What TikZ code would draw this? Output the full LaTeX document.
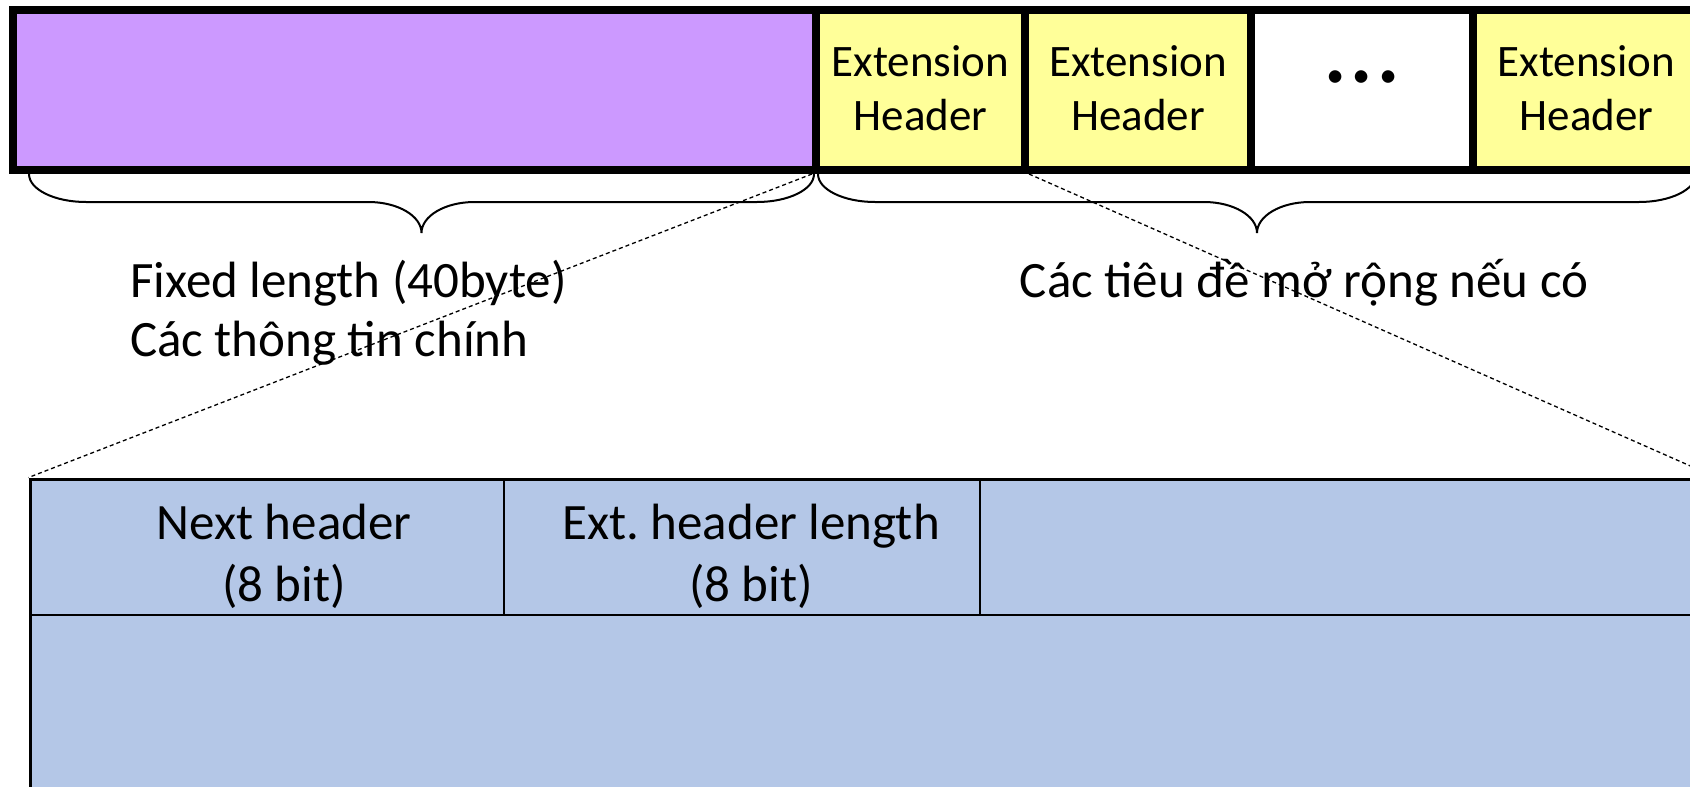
\documentclass[tikz,border=0pt]{standalone}
\usepackage{fontspec}
\setmainfont{Carlito}
\frenchspacing
\definecolor{fixedc}{HTML}{CC99FF}
\definecolor{extc}{HTML}{FFFF99}
\definecolor{cellc}{HTML}{B4C7E7}
\newcommand\mybrace[3]{% x1, xm, x2
  \draw[bracel] (#1,174) .. controls (#1,189.5) and ({#1+25.5},202) .. ({#1+57},202)
   -- ({#2-53},202) .. controls ({#2-23.7},202) and (#2,215.9) .. (#2,233)
   .. controls (#2,215.9) and ({#2+23.7},202) .. ({#2+53},202)
   -- ({#3-57},202) .. controls ({#3-25.5},202) and (#3,189.5) .. (#3,174);}
\newcommand\lowstrut{\rule[-3.2pt]{0pt}{3.2pt}}
\begin{document}
\begin{tikzpicture}[x=1pt,y=-1pt,
  barbox/.style={draw=black, line width=8pt, minimum height=160pt, inner sep=0pt,
    font=\fontsize{45}{54}\selectfont, align=center},
  bracel/.style={draw=black, line width=2pt},
  zoomline/.style={draw=black, line width=1.3pt, dash pattern=on 4pt off 3pt},
  outerbox/.style={draw=black, line width=3pt, fill=cellc, inner sep=0pt},
  cellbox/.style={draw=black, line width=1.5pt, inner sep=0pt},
  celltext/.style={inner sep=0pt, align=center, font=\fontsize{51}{62}\selectfont},
  labeltext/.style={inner sep=0pt, font=\fontsize{51}{59.5}\selectfont}]
\useasboundingbox (0,0) rectangle (1690,787);
\clip (0,0) rectangle (1690,787);

% top bar
\node[barbox, fill=fixedc, minimum width=803pt] (fixed) at (414.5,90) {};
\node[barbox, fill=extc, minimum width=209pt] (e1) at (920.5,90) {Extension\\Header\lowstrut};
\node[barbox, fill=extc, minimum width=226pt] (e2) at (1138,90) {Extension\\Header\lowstrut};
\node[barbox, fill=white, minimum width=222pt, text height=0pt, text depth=15pt,
      font=\fontsize{104}{104}\selectfont] (dots) at (1362,90) {...};
\node[barbox, fill=extc, minimum width=227pt] (e4) at (1586.5,90) {Extension\\Header\lowstrut};

% braces
\mybrace{29}{421.5}{814}
\mybrace{818}{1257}{1696}

% labels
\node[labeltext, align=left, anchor=west] (lfixed) at (130,312.5) {Fixed length (40byte)\\Các thông tin chính};
\node[labeltext, anchor=base] (lext) at (1304,297.3) {Các tiêu đề mở rộng nếu có};

% extension header detail table
\node[outerbox, minimum width=1685pt, minimum height=471pt] (tbl) at (872.5,714.5) {};
\node[cellbox, minimum width=474pt, minimum height=136pt] (c1) at (267,547) {};
\node[cellbox, minimum width=476pt, minimum height=136pt] (c2) at (742,547) {};
\node[cellbox, minimum width=735pt, minimum height=136pt] (c3) at (1347.5,547) {};
\node[celltext] (t1) at (284,556) {Next header\\(8 bit)};
\node[celltext] (t2) at (751,556) {Ext. header length\\(8 bit)};

% zoom lines
\draw[zoomline] (e1.south west) -- (tbl.north west);
\draw[zoomline] (e1.south east) -- (tbl.north east);
\end{tikzpicture}
\end{document}
